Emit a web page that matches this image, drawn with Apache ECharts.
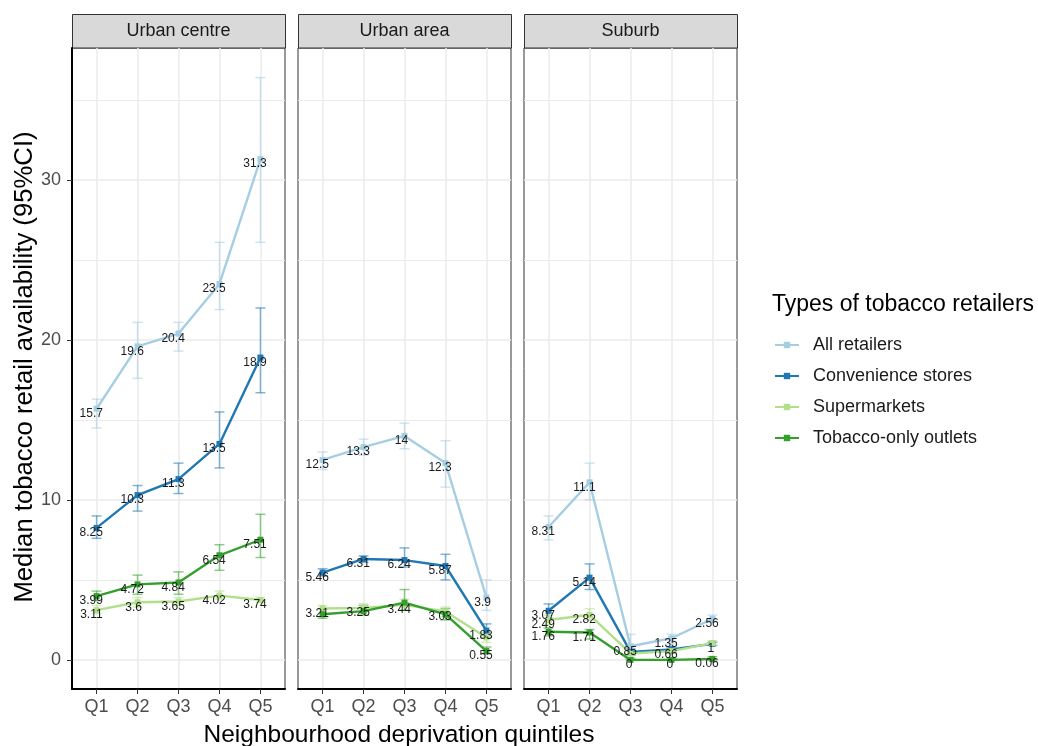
<!DOCTYPE html>
<html><head><meta charset="utf-8">
<script src="https://cdn.jsdelivr.net/npm/echarts@6/dist/echarts.min.js"></script>
<style>html,body{margin:0;padding:0;background:#fff}#chart{width:1038px;height:746px}</style>
</head><body><div id="chart"></div>
<script>
const categories = ['Q1', 'Q2', 'Q3', 'Q4', 'Q5'];
const panels = ['Urban centre', 'Urban area', 'Suburb'];
const seriesNames = ['All retailers', 'Convenience stores', 'Supermarkets', 'Tobacco-only outlets'];
const colors = ['#a6cee3', '#1f78b4', '#b2df8a', '#33a02c'];

// medians and 95% CI per panel (Urban centre, Urban area, Suburb), Q1..Q5
const allMedian = [[15.7, 19.6, 20.4, 23.5, 31.3], [12.5, 13.3, 14, 12.3, 3.9], [8.31, 11.1, 0.85, 1.35, 2.56]];
const allLow    = [[14.5, 17.6, 19.3, 21.9, 26.1], [11.9, 12.8, 13.2, 10.8, 3.1], [7.5, 10.0, 0.3, 1.0, 2.4]];
const allHigh   = [[16.3, 21.1, 21.1, 26.1, 36.4], [13.0, 13.8, 14.8, 13.7, 5.0], [9.0, 12.3, 1.6, 1.6, 2.8]];

const convMedian = [[8.25, 10.3, 11.3, 13.5, 18.9], [5.46, 6.31, 6.24, 5.87, 1.83], [3.07, 5.14, 0.5, 0.66, 1]];
const convLow    = [[7.6, 9.3, 10.4, 12.0, 16.7], [5.25, 6.1, 5.8, 5.0, 1.4], [2.6, 4.4, 0.3, 0.5, 0.9]];
const convHigh   = [[9.0, 10.9, 12.3, 15.5, 22.0], [5.7, 6.5, 7.0, 6.6, 2.25], [3.5, 6.0, 0.7, 0.8, 1.1]];

const superMedian = [[3.11, 3.6, 3.65, 4.02, 3.74], [3.21, 3.25, 3.44, 3.03, 1.4], [2.49, 2.82, 0.4, 0.55, 1.05]];
const superLow    = [[2.9, 3.3, 3.4, 3.8, 3.6], [2.9, 3.0, 3.1, 2.7, 1.1], [2.2, 2.5, 0.3, 0.4, 0.9]];
const superHigh   = [[3.4, 3.9, 3.9, 4.3, 3.9], [3.4, 3.5, 3.8, 3.3, 1.7], [2.8, 3.2, 0.6, 0.7, 1.2]];

const tobMedian = [[3.99, 4.72, 4.84, 6.54, 7.51], [2.85, 3.05, 3.58, 2.85, 0.55], [1.76, 1.71, 0, 0, 0.06]];
const tobLow    = [[3.7, 4.1, 4.1, 5.6, 6.4], [2.6, 2.8, 3.1, 2.5, 0.4], [1.5, 1.3, 0, 0, 0]];
const tobHigh   = [[4.3, 5.3, 5.5, 7.2, 9.1], [3.2, 3.4, 4.4, 3.2, 0.8], [2.0, 1.9, 0.1, 0.1, 0.2]];

const yTicks = [0, 10, 20, 30];
const yMinor = [5, 15, 25, 35];
const yRange = [-1.82, 38.25];

// labels not drawn (overlapping in the original)
const hiddenLabels = [
  'Urban area|Tobacco-only outlets|Q1', 'Urban area|Tobacco-only outlets|Q2',
  'Urban area|Tobacco-only outlets|Q3', 'Urban area|Tobacco-only outlets|Q4',
  'Urban area|Supermarkets|Q5',
  'Suburb|Convenience stores|Q3', 'Suburb|Supermarkets|Q3',
  'Suburb|Supermarkets|Q4', 'Suburb|Supermarkets|Q5'
];

const medians = [allMedian, convMedian, superMedian, tobMedian];
const lows = [allLow, convLow, superLow, tobLow];
const highs = [allHigh, convHigh, superHigh, tobHigh];

const FONT = '"Liberation Sans", Arial, Helvetica, sans-serif';
const panelLeft = [72, 298, 524];
const panelWidth = 213;
const panelTop = 48;
const panelHeight = 641;
const LABEL_SIZE = 12;

const ctx = document.createElement('canvas').getContext('2d');
ctx.font = LABEL_SIZE + 'px ' + FONT;
function textW(s) { return ctx.measureText(s).width; }

function hexA(hex, a) {
  const n = parseInt(hex.slice(1), 16);
  return 'rgba(' + (n >> 16) + ',' + ((n >> 8) & 255) + ',' + (n & 255) + ',' + a + ')';
}

const grids = [], xAxes = [], yAxes = [], series = [], graphics = [];
panels.forEach((p, pi) => {
  grids.push({ left: panelLeft[pi], top: panelTop, width: panelWidth, height: panelHeight,
    show: true, borderColor: '#333333', borderWidth: 1, backgroundColor: '#fff' });
  xAxes.push({
    type: 'value', gridIndex: pi, min: 0.4, max: 5.6,
    axisLine: { show: true, onZero: false, lineStyle: { color: '#000', width: 2 } },
    axisTick: { show: true, length: 5, customValues: [1, 2, 3, 4, 5], lineStyle: { color: '#333', width: 1 } },
    axisLabel: { show: true, customValues: [1, 2, 3, 4, 5], formatter: v => categories[Math.round(v) - 1],
      fontSize: 18, color: '#4d4d4d', fontFamily: FONT, margin: 9 },
    splitLine: { show: true, lineStyle: { color: '#ebebeb', width: 1.5 } }
  });
  yAxes.push({
    type: 'value', gridIndex: pi, min: yRange[0], max: yRange[1],
    axisLine: { show: pi === 0, onZero: false, lineStyle: { color: '#000', width: 2 } },
    axisTick: { show: pi === 0, length: 5, customValues: yTicks, lineStyle: { color: '#333', width: 1 } },
    axisLabel: { show: pi === 0, customValues: yTicks, fontSize: 18, color: '#4d4d4d', fontFamily: FONT, margin: 11 },
    splitLine: { show: true, lineStyle: { color: '#ebebeb', width: 1.5 } },
    z: 1
  });
});
panels.forEach((p, pi) => {
  yAxes.push({
    type: 'value', gridIndex: pi, min: yRange[0], max: yRange[1],
    axisLine: { show: false }, axisTick: { show: false, customValues: yMinor },
    axisLabel: { show: false, customValues: yMinor },
    splitLine: { show: true, lineStyle: { color: '#ebebeb', width: 1 } },
    z: 0
  });
});

panels.forEach((p, pi) => {
  seriesNames.forEach((name, si) => {
    const med = medians[si][pi], lo = lows[si][pi], hi = highs[si][pi];
    series.push({
      type: 'line', name: name, xAxisIndex: pi, yAxisIndex: pi, z: 3,
      symbol: 'rect', symbolSize: 6, showAllSymbol: true,
      lineStyle: { color: colors[si], width: 2.4 },
      itemStyle: { color: colors[si] },
      emphasis: { disabled: true },
      animation: false,
      data: categories.map((c, i) => {
        const txt = String(med[i]);
        const hidden = hiddenLabels.indexOf(p + '|' + name + '|' + c) >= 0;
        return {
          value: [i + 1, med[i]],
          label: { show: !hidden, formatter: txt, position: 'inside',
            offset: [-0.23 * textW(txt), 5] }
        };
      }),
      label: { show: true, fontSize: LABEL_SIZE, color: '#1a1a1a', fontFamily: FONT }
    });
    series.push({
      type: 'custom', name: name + ' 95%CI', xAxisIndex: pi, yAxisIndex: pi, z: 1,
      data: categories.map((c, i) => [i + 1, lo[i], hi[i]]),
      encode: { x: 0, y: [1, 2] },
      silent: true,
      renderItem: (params, api) => {
        const x = api.value(0);
        const a = api.coord([x, api.value(1)]);
        const b = api.coord([x, api.value(2)]);
        const w = 5;
        const st = { stroke: hexA(colors[si], 0.55), lineWidth: 1.5 };
        return { type: 'group', children: [
          { type: 'line', shape: { x1: a[0], y1: a[1], x2: b[0], y2: b[1] }, style: st },
          { type: 'line', shape: { x1: a[0] - w, y1: a[1], x2: a[0] + w, y2: a[1] }, style: st },
          { type: 'line', shape: { x1: b[0] - w, y1: b[1], x2: b[0] + w, y2: b[1] }, style: st }
        ] };
      }
    });
  });
  graphics.push({ type: 'rect', shape: { x: panelLeft[pi] + 0.5, y: 14.5, width: panelWidth, height: 33.5 },
    style: { fill: '#d9d9d9', stroke: '#333333', lineWidth: 1 } });
  graphics.push({ type: 'text', x: panelLeft[pi] + panelWidth / 2, y: 31.5,
    style: { text: p, fontSize: 18, fontFamily: FONT, fill: '#1a1a1a', align: 'center', verticalAlign: 'middle' } });
});

graphics.push({ type: 'text', x: 399, y: 735,
  style: { text: 'Neighbourhood deprivation quintiles', fontSize: 24.5, fontFamily: FONT, fill: '#000',
    align: 'center', verticalAlign: 'middle' } });
graphics.push({ type: 'text', x: 25, y: 367, rotation: Math.PI / 2,
  style: { text: 'Median tobacco retail availability (95%CI)', fontSize: 25.7, fontFamily: FONT, fill: '#000',
    align: 'center', verticalAlign: 'middle' } });
graphics.push({ type: 'text', x: 772, y: 305,
  style: { text: 'Types of tobacco retailers', fontSize: 23, fontFamily: FONT, fill: '#000',
    align: 'left', verticalAlign: 'middle' } });

const option = {
  animation: false,
  backgroundColor: '#ffffff',
  grid: grids, xAxis: xAxes, yAxis: yAxes, series: series,
  legend: {
    data: seriesNames, orient: 'vertical', left: 769, top: 330, padding: 5,
    itemWidth: 24, itemHeight: 8, itemGap: 11,
    textStyle: { fontSize: 18, color: '#1a1a1a', fontFamily: FONT, lineHeight: 20, padding: [0, 0, 0, 9] },
    selectedMode: false
  },
  graphic: graphics
};
const chart = echarts.init(document.getElementById('chart'), null, { renderer: 'canvas' });
chart.setOption(option);
</script></body></html>
